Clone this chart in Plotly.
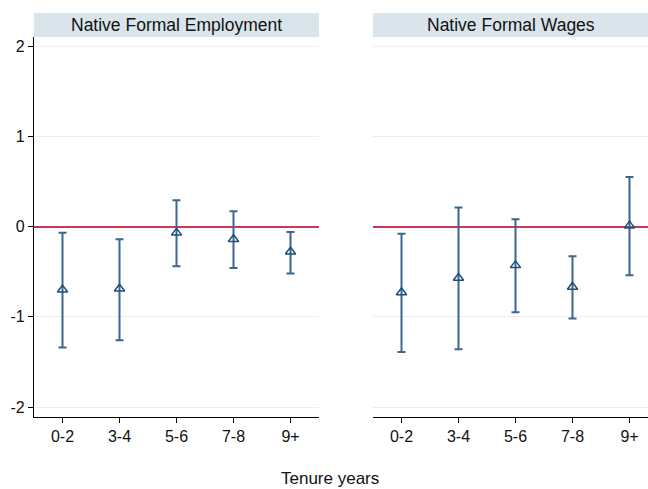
import plotly.graph_objects as go

categories = ["0-2", "3-4", "5-6", "7-8", "9+"]
cat_pos = [1, 2, 3, 4, 5]

emp_est = [-0.70, -0.69, -0.07, -0.14, -0.28]
emp_hi = [-0.07, -0.14, 0.29, 0.17, -0.06]
emp_lo = [-1.34, -1.26, -0.44, -0.46, -0.52]

wage_est = [-0.73, -0.57, -0.43, -0.67, 0.01]
wage_hi = [-0.08, 0.21, 0.08, -0.33, 0.55]
wage_lo = [-1.39, -1.36, -0.95, -1.02, -0.54]

panel_titles = ["Native Formal Employment", "Native Formal Wages"]
y_ticks = [-2, -1, 0, 1, 2]
y_ticktext = ["-2", "-1", "0", "1", "2"]

navy = "#1f4e79"
FONT = "Liberation Sans, Arial, Helvetica, sans-serif"

fig = go.Figure()

def add_panel(est, hi, lo, xa, ya):
    fig.add_trace(go.Scatter(
        x=cat_pos, y=est, mode="markers", xaxis=xa, yaxis=ya,
        marker=dict(symbol="triangle-up-open", size=9, color=navy,
                    line=dict(width=1.5, color=navy)),
        error_y=dict(type="data", symmetric=False,
                     array=[h - e for h, e in zip(hi, est)],
                     arrayminus=[e - l for e, l in zip(est, lo)],
                     color="#3a6690", thickness=2, width=4),
        showlegend=False, cliponaxis=False, hoverinfo="skip"))

add_panel(emp_est, emp_hi, emp_lo, "x", "y")
add_panel(wage_est, wage_hi, wage_lo, "x2", "y2")

W, H = 648, 489
ml, mr, mt, mb = 34, 0, 37, 72
pw = W - ml - mr
ph = H - mt - mb
d1 = (319 - ml) / pw
d2 = (373 - ml) / pw

common_x = dict(tickvals=cat_pos, ticktext=categories, ticks="outside", ticklen=5,
                tickcolor="black", showline=True, linecolor="black", linewidth=1.2,
                showgrid=False, zeroline=False, tickfont=dict(size=16, color="#111"))
common_y = dict(range=[-2.11, 2.1], tickvals=y_ticks, ticktext=y_ticktext,
                showgrid=True, gridcolor="#eeeeee",
                gridwidth=1, zeroline=True, zerolinecolor="#c8385a", zerolinewidth=2)
fig.update_layout(
    xaxis=dict(domain=[0, d1], range=[0.5, 5.5], anchor="y", **common_x),
    xaxis2=dict(domain=[d2, 1], range=[0.5, 0.5 + (W - 373) / 57.0], anchor="y2", **common_x),
    yaxis=dict(ticks="outside", ticklen=5, tickcolor="black", showline=True,
               linecolor="black", linewidth=1.2,
               tickfont=dict(size=16, color="#111"), anchor="x", **common_y),
    yaxis2=dict(showticklabels=False, showline=False, anchor="x2", **common_y),
    width=W, height=H,
    margin=dict(l=ml, r=mr, t=mt, b=mb),
    plot_bgcolor="white", paper_bgcolor="white",
    font=dict(family=FONT, color="#111"),
)

hdr = 24 / ph
for i, (xr, yr) in enumerate([("x domain", "y domain"), ("x2 domain", "y2 domain")]):
    fig.add_shape(type="rect", xref=xr, yref=yr, x0=0, x1=1, y0=1, y1=1 + hdr,
                  fillcolor="#d9e5eb", line=dict(width=0), layer="below")
    fig.add_annotation(xref=xr, yref=yr, x=0.5, y=1 + hdr / 2, text=panel_titles[i],
                       showarrow=False, font=dict(size=17.5, color="#111"),
                       xanchor="center", yanchor="middle")

fig.add_annotation(xref="paper", yref="paper", x=(330 - ml) / pw, y=-(478 - 417) / ph,
                   text="Tenure years", showarrow=False, xanchor="center",
                   yanchor="middle", font=dict(size=17, color="#111"))

fig.write_html("out.html", config={"displayModeBar": False},
               post_script="document.body.style.margin='0';")
